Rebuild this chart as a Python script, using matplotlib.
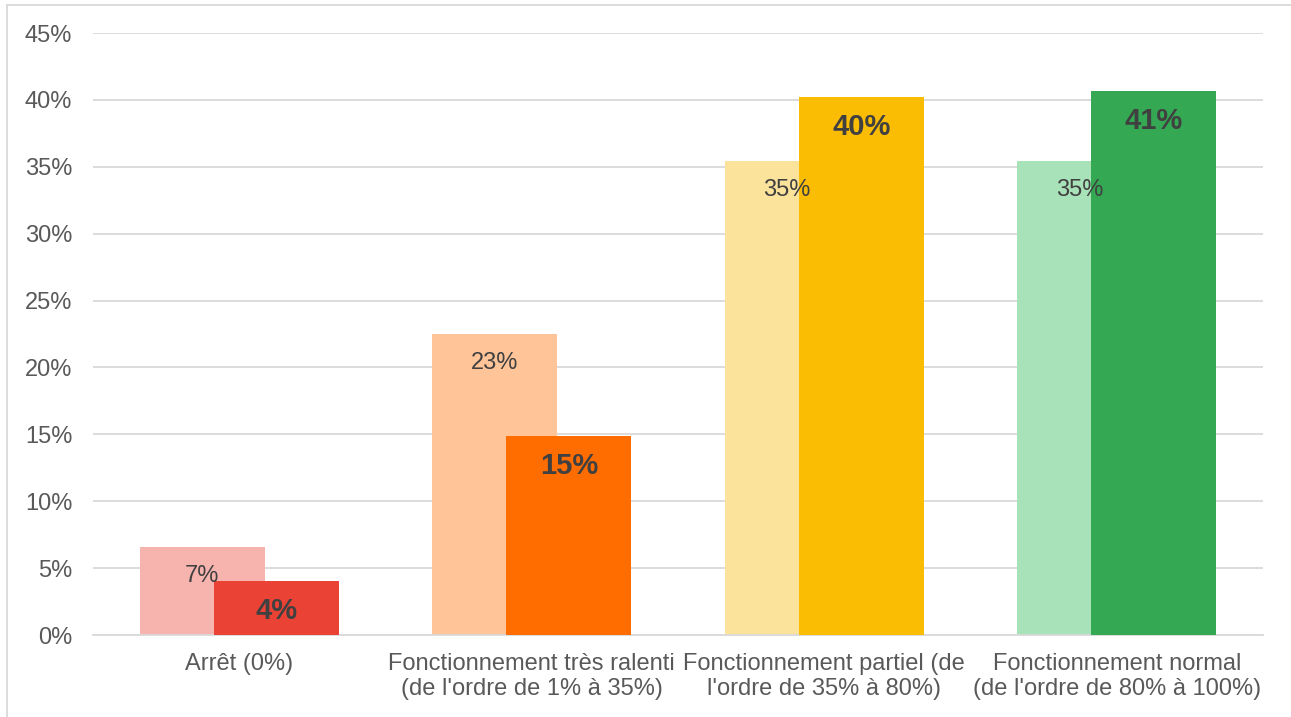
import matplotlib.pyplot as plt
import numpy as np
from matplotlib.lines import Line2D

plt.rcParams['font.family'] = ['Liberation Sans', 'DejaVu Sans']

# Données
categories = ["Arrêt (0%)",
              "Fonctionnement très ralenti\n(de l'ordre de 1% à 35%)",
              "Fonctionnement partiel (de\nl'ordre de 35% à 80%)",
              "Fonctionnement normal\n(de l'ordre de 80% à 100%)"]
serie_claire = [6.6, 22.5, 35.4, 35.4]
serie_foncee = [4.0, 14.9, 40.2, 40.7]
labels_claire = ["7%", "23%", "35%", "35%"]
labels_foncee = ["4%", "15%", "40%", "41%"]
yticks = [0, 5, 10, 15, 20, 25, 30, 35, 40, 45]

couleurs_claires = ["#F7B4AE", "#FFC599", "#FCE39C", "#A8E2B8"]
couleurs_foncees = ["#EA4335", "#FF6D01", "#FBBC04", "#34A853"]

fig = plt.figure(figsize=(12.91, 7.17), dpi=100)
W, H = 1291, 717
ax = fig.add_axes([93 / W, 1 - 635 / H, (1263 - 93) / W, (635 - 33) / H])

x = np.arange(len(categories))
larg = 0.427
dec = 0.127

ax.bar(x - dec, serie_claire, width=larg, color=couleurs_claires, zorder=2)
ax.bar(x + dec, serie_foncee, width=larg, color=couleurs_foncees, zorder=3)

for i in range(len(categories)):
    ax.annotate(labels_claire[i], (x[i] - dec, serie_claire[i]), xytext=(0, -29),
                textcoords='offset pixels', ha='center', va='center',
                fontsize=17, color='#404040', zorder=5)
    ax.annotate(labels_foncee[i], (x[i] + dec, serie_foncee[i]), xytext=(0, -30),
                textcoords='offset pixels', ha='center', va='center',
                fontsize=21, fontweight='bold', color='#404040', zorder=5)

ax.set_xlim(-0.5, len(categories) - 0.5)
ax.set_ylim(0, 45)
ax.set_yticks(yticks)
ax.set_yticklabels([f"{v}%" for v in yticks])
ax.set_xticks(x)
ax.set_xticklabels(categories, linespacing=1.2)
ax.tick_params(axis='both', length=0, labelsize=17, colors='#595959')
ax.tick_params(axis='y', pad=15)
ax.tick_params(axis='x', pad=13)
ax.yaxis.grid(True, color='#D9D9D9', linewidth=1.3, zorder=0)
ax.set_axisbelow(True)
for s in ['top', 'right', 'left']:
    ax.spines[s].set_visible(False)
ax.spines['bottom'].set_color('#D9D9D9')
ax.spines['bottom'].set_linewidth(1.3)

# cadre (haut et gauche seulement)
fig.add_artist(Line2D([7 / W, 7 / W], [0, 1 - 5 / H], transform=fig.transFigure,
                      color='#D9D9D9', linewidth=1.3))
fig.add_artist(Line2D([7 / W, 1], [1 - 5 / H, 1 - 5 / H], transform=fig.transFigure,
                      color='#D9D9D9', linewidth=1.3))

fig.savefig("out.png", dpi=100)
